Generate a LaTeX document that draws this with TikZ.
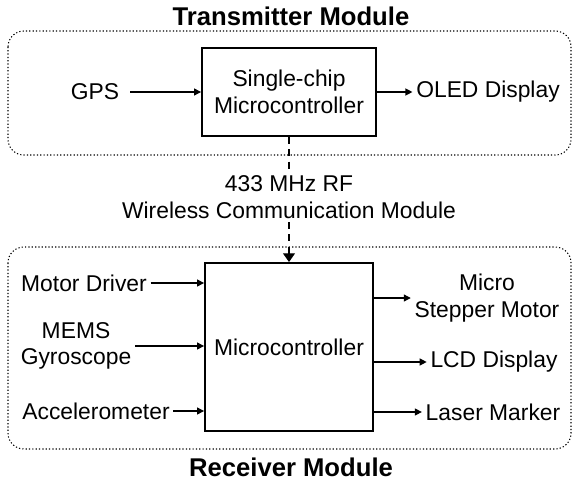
\documentclass[tikz,border=0pt]{standalone}
\usepackage{fontspec}
\setmainfont{Liberation Sans}
\usetikzlibrary{arrows.meta}

\tikzset{
  module/.style={draw, line width=0.6pt, dash pattern=on 0.7pt off 1.2pt, rounded corners=9pt},
  mcu/.style={draw, line width=1.1pt, align=center, inner sep=0pt, font=\fontsize{13}{15}\selectfont},
  txt/.style={align=center, inner sep=2pt, font=\fontsize{13}{15}\selectfont},
  modtitle/.style={font=\fontsize{14.6}{16}\selectfont\bfseries},
  sig/.style={-{Triangle[length=4pt,width=4pt]}, line width=0.7pt},
  rf/.style={line width=0.8pt, dash pattern=on 4pt off 3pt}
}

\begin{document}
\begin{tikzpicture}[x=0.02cm,y=-0.02cm]

\useasboundingbox (0,0) rectangle (573,479);

% transmitter module
\draw[module] (8,31) rectangle (571,155);
\node[modtitle] (txtitle) at (291,16) {Transmitter Module};

\node[mcu, minimum width=3.48cm, minimum height=1.76cm] (txmcu) at (289,92) {Single-chip\\Microcontroller};
\node[txt] (gps) at (95,92) {GPS};
\node[txt] (oled) at (488,92) {OLED Display};

\draw[sig, shorten <=4pt] (gps) -- (txmcu);
\draw[sig] (txmcu) -- (oled);

% radio link
\node[txt] (rf) at (289,197) {433 MHz RF\\Wireless Communication Module};

% receiver module
\draw[module] (8,247) rectangle (571,449);
\node[modtitle] (rxtitle) at (291,467) {Receiver Module};

\node[mcu, minimum width=3.36cm, minimum height=3.36cm] (rxmcu) at (289,347) {Microcontroller};

\node[txt] (mdrv) at (84,283) {Motor Driver};
\node[txt] (gyro) at (76,346) {MEMS\\Gyroscope};
\node[txt] (accel) at (96,411) {Accelerometer};

\node[txt] (stepper) at (487,298) {Micro\\Stepper Motor};
\node[txt] (lcd) at (494,362) {LCD Display};
\node[txt] (laser) at (493,412) {Laser Marker};

\draw[rf] (txmcu) -- (rf);
\draw[rf, -{Triangle[length=5pt,width=6.8pt]}] (rf) -- (rxmcu);

\foreach \n in {mdrv,gyro,accel}
{
  \draw[sig] (\n) -- (\n -| rxmcu.west);
}

\foreach \n in {stepper,lcd,laser}
{
  \draw[sig] (rxmcu.east |- \n) -- (\n);
}

\end{tikzpicture}
\end{document}
